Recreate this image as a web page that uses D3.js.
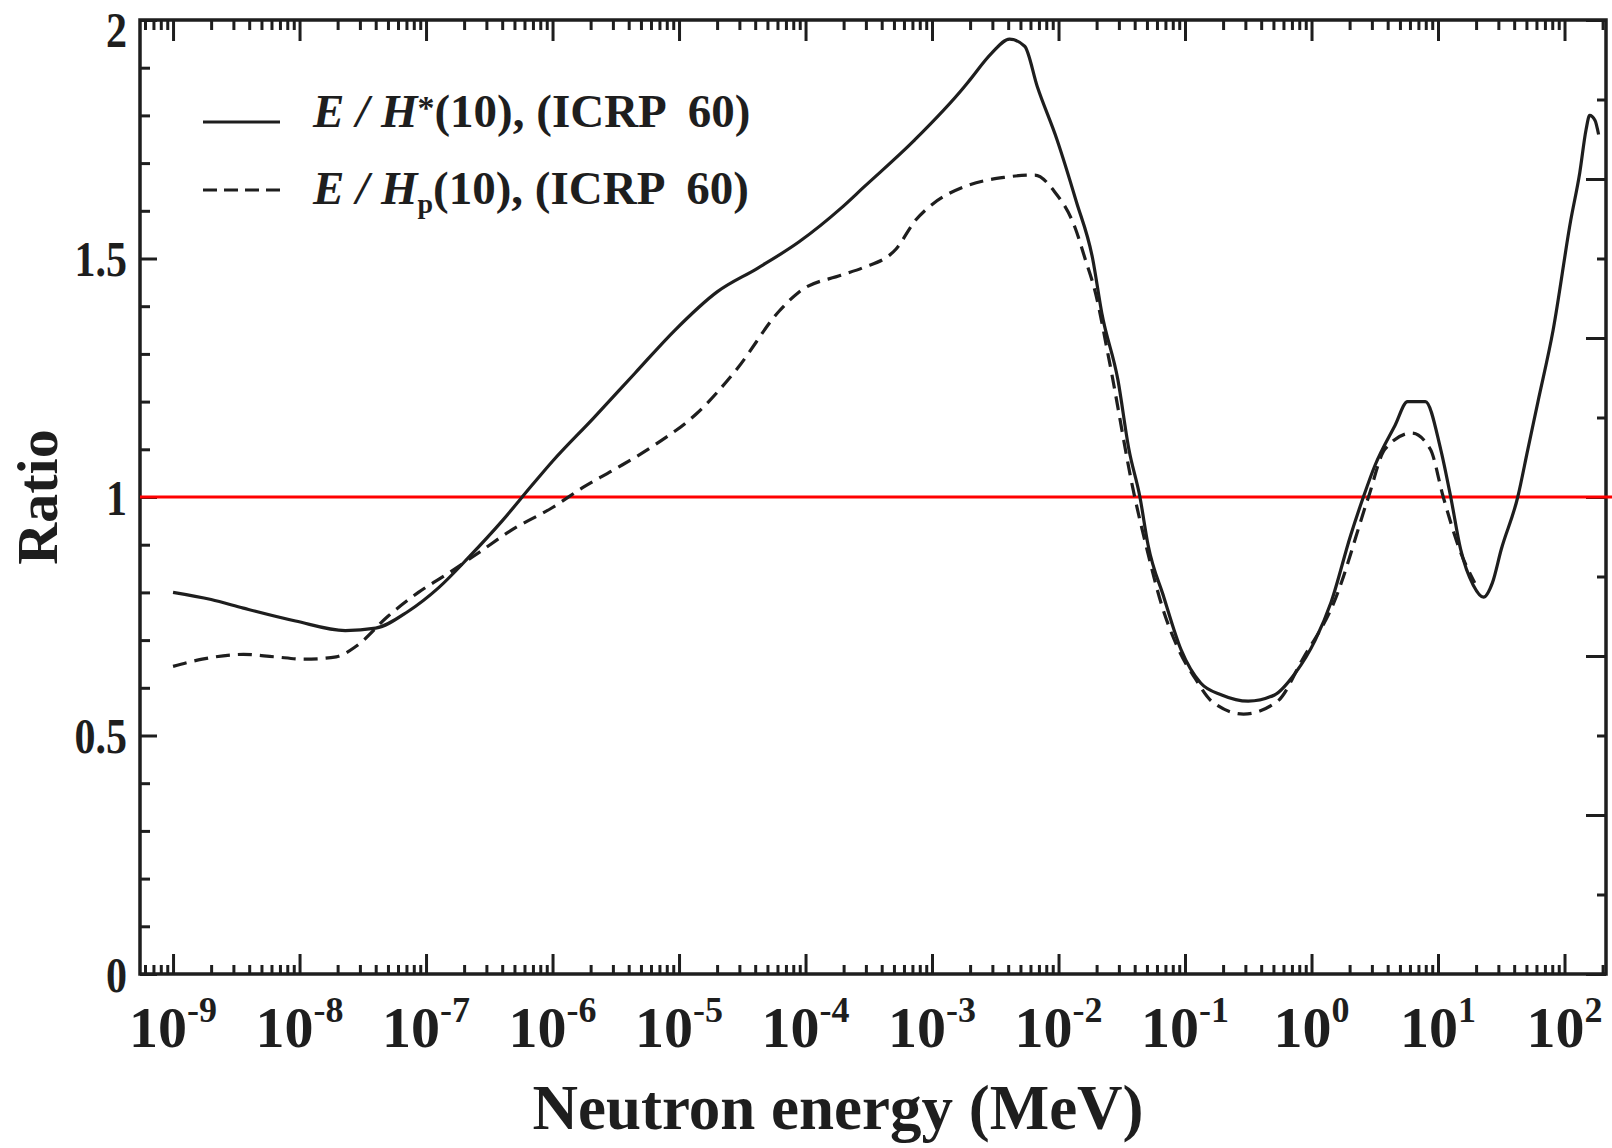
<!DOCTYPE html>
<html lang="en">
<head>
<meta charset="UTF-8">
<title>Ratio E / H*(10) and E / Hp(10) vs neutron energy</title>
<script src="https://d3js.org/d3.v7.min.js"></script>
<style>
  body { margin: 0; background: #fff; }
  svg text { font-family: "Liberation Serif", "Times New Roman", serif; font-weight: bold; fill: #1e1e1e; }
</style>
</head>
<body>
<div id="chart"></div>
<script>
// E / H*(10), ICRP 60 -- energy (MeV) and ratio
const hStarEnergy = [1.0e-9, 2.0e-9, 3.6e-9, 9.3e-9, 2.3e-8, 4.0e-8, 7.2e-8, 1.26e-7, 2.2e-7, 4.0e-7,
  6.9e-7, 1.0e-6, 2.1e-6, 4.5e-6, 9.3e-6, 2.0e-5, 4.2e-5, 8.9e-5, 1.9e-4, 2.9e-4,
  7.2e-4, 1.8e-3, 2.0e-3, 2.95e-3, 4.1e-3, 5.4e-3, 6.8e-3, 9.7e-3, 1.38e-2, 1.86e-2,
  2.2e-2, 2.95e-2, 3.6e-2, 4.4e-2, 5.1e-2, 6.8e-2, 9.3e-2, 0.133, 0.195, 0.316,
  0.51, 0.74, 1.07, 1.43, 2.04, 2.57, 3.16, 4.57, 5.75, 7.94,
  10.5, 12.6, 15.1, 19.0, 22.9, 26.9, 31.6, 42.7, 51.3, 61.7,
  81.3, 112, 132, 148, 158, 174, 186];
const hStarRatio = [0.80, 0.785, 0.767, 0.74, 0.72, 0.725, 0.76, 0.81, 0.875, 0.95,
  1.025, 1.075, 1.165, 1.26, 1.35, 1.43, 1.48, 1.535, 1.605, 1.65,
  1.747, 1.86, 1.875, 1.93, 1.96, 1.945, 1.86, 1.75, 1.62, 1.50,
  1.385, 1.245, 1.10, 1.0, 0.90, 0.79, 0.68, 0.61, 0.585, 0.572,
  0.585, 0.63, 0.70, 0.78, 0.92, 1.0, 1.065, 1.15, 1.20, 1.20,
  1.10, 1.0, 0.89, 0.815, 0.79, 0.82, 0.89, 1.0, 1.10, 1.20,
  1.35, 1.58, 1.68, 1.77, 1.80, 1.79, 1.76];

// E / Hp(10), ICRP 60
const hpEnergy = [1.0e-9, 1.7e-9, 3.6e-9, 6.3e-9, 1.1e-8, 1.95e-8, 2.8e-8, 5.0e-8, 8.7e-8, 1.5e-7,
  2.7e-7, 4.7e-7, 1.0e-6, 1.74e-6, 3.1e-6, 6.5e-6, 1.38e-5, 2.9e-5, 6.2e-5, 8.9e-5,
  1.9e-4, 2.8e-4, 5.2e-4, 7.4e-4, 1.02e-3, 1.78e-3, 3.7e-3, 6.5e-3, 9.3e-3, 1.35e-2,
  1.62e-2, 1.95e-2, 2.5e-2, 4.0e-2, 4.9e-2, 6.6e-2, 8.9e-2, 0.12, 0.162, 0.29,
  0.54, 0.85, 1.51, 2.82, 3.8, 6.2, 8.7, 11.0, 14.8, 19.5];
const hpRatio = [0.645, 0.66, 0.67, 0.665, 0.66, 0.665, 0.687, 0.75, 0.80, 0.84,
  0.886, 0.93, 0.978, 1.02, 1.058, 1.11, 1.175, 1.27, 1.39, 1.43,
  1.465, 1.48, 1.52, 1.58, 1.615, 1.65, 1.67, 1.675, 1.64, 1.565,
  1.50, 1.43, 1.29, 1.0, 0.90, 0.77, 0.68, 0.62, 0.572, 0.545,
  0.572, 0.66, 0.78, 1.0, 1.10, 1.134, 1.10, 1.0, 0.89, 0.82];

const decadeExponents = [-9, -8, -7, -6, -5, -4, -3, -2, -1, 0, 1, 2];
const yTickValues = [0, 0.5, 1, 1.5, 2];
const yTickLabels = ["0", "0.5", "1", "1.5", "2"];
const legendLabels = ["E / H*(10), (ICRP  60)", "E / Hp(10), (ICRP  60)"];

const W = 1612, H = 1148;
const frameLeft = 140, frameRight = 1606, frameTop = 20, frameBottom = 974;
const ink = "#1e1e1e";

const svg = d3.select("#chart").append("svg")
    .attr("width", W)
    .attr("height", H);

const x = d3.scaleLog()
    .domain([5.48e-10, 212.8])
    .range([frameLeft, frameRight]);

const y = d3.scaleLinear()
    .domain([0, 2])
    .range([frameBottom, frameTop]);

// ticks (all pointing inside the frame)
const majorX = decadeExponents.map(e => Math.pow(10, e));
const minorX = [];
d3.range(-10, 3).forEach(e => {
    d3.range(2, 10).forEach(m => {
        const v = m * Math.pow(10, e);
        if (v > x.domain()[0] && v < x.domain()[1]) minorX.push(v);
    });
});

function styleTicks(g) {
    g.select(".domain").remove();
    g.selectAll("text").remove();
    g.selectAll("line").attr("stroke", ink).attr("stroke-width", 3);
}

svg.append("g").attr("transform", `translate(0,${frameBottom})`)
    .call(d3.axisBottom(x).tickValues(minorX).tickSize(-9).tickSizeOuter(0)).call(styleTicks);
svg.append("g").attr("transform", `translate(0,${frameBottom})`)
    .call(d3.axisBottom(x).tickValues(majorX).tickSize(-20).tickSizeOuter(0)).call(styleTicks);
svg.append("g").attr("transform", `translate(0,${frameTop})`)
    .call(d3.axisTop(x).tickValues(minorX).tickSize(-10).tickSizeOuter(0)).call(styleTicks);
svg.append("g").attr("transform", `translate(0,${frameTop})`)
    .call(d3.axisTop(x).tickValues(majorX).tickSize(-21).tickSizeOuter(0)).call(styleTicks);

const yMinor = d3.range(0, 21).map(i => i / 10).filter(v => !yTickValues.includes(v));
svg.append("g").attr("transform", `translate(${frameLeft},0)`)
    .call(d3.axisLeft(y).tickValues(yMinor).tickSize(-10).tickSizeOuter(0)).call(styleTicks);
svg.append("g").attr("transform", `translate(${frameLeft},0)`)
    .call(d3.axisLeft(y).tickValues(yTickValues).tickSize(-17).tickSizeOuter(0)).call(styleTicks);

// right side has its own 12-step tick pattern, no labels
const rightTicks = d3.range(0, 13).map(i => i * 2 / 12);
svg.append("g").attr("transform", `translate(${frameRight},0)`)
    .call(d3.axisRight(y).tickValues(rightTicks.filter((d, i) => i % 2 === 1)).tickSize(-9).tickSizeOuter(0)).call(styleTicks);
svg.append("g").attr("transform", `translate(${frameRight},0)`)
    .call(d3.axisRight(y).tickValues(rightTicks.filter((d, i) => i % 2 === 0)).tickSize(-20).tickSizeOuter(0)).call(styleTicks);

// frame
svg.append("rect")
    .attr("x", frameLeft).attr("y", frameTop)
    .attr("width", frameRight - frameLeft).attr("height", frameBottom - frameTop)
    .attr("fill", "none").attr("stroke", ink).attr("stroke-width", 3.5);

// tick labels
decadeExponents.forEach(e => {
    const t = svg.append("text")
        .attr("x", x(Math.pow(10, e)))
        .attr("y", 1047)
        .attr("text-anchor", "middle")
        .style("font-size", "58px");
    t.append("tspan").text("10");
    t.append("tspan").attr("dy", -25).style("font-size", "36px").text(e);
});

// the scanned labels are tall and narrow
yTickValues.forEach((v, i) => {
    svg.append("text")
        .attr("transform", `translate(127,${Math.max(y(v), 29)}) scale(0.84,1)`)
        .attr("dy", "0.35em")
        .attr("text-anchor", "end")
        .style("font-size", "50px")
        .text(yTickLabels[i]);
});

// axis titles
svg.append("text")
    .attr("x", 838).attr("y", 1129)
    .attr("text-anchor", "middle")
    .style("font-size", "63px")
    .text("Neutron energy (MeV)");

svg.append("text")
    .attr("transform", `translate(57,${y(1)}) rotate(-90)`)
    .attr("text-anchor", "middle")
    .style("font-size", "58px")
    .text("Ratio");

// reference line at ratio 1
svg.append("line")
    .attr("x1", frameLeft).attr("x2", W)
    .attr("y1", y(1)).attr("y2", y(1))
    .attr("stroke", "#ff0000").attr("stroke-width", 3);

// curves
const line = d3.line()
    .x(d => x(d[0]))
    .y(d => y(d[1]))
    .curve(d3.curveMonotoneX);

svg.append("path")
    .datum(d3.zip(hStarEnergy, hStarRatio))
    .attr("d", line)
    .attr("fill", "none").attr("stroke", ink).attr("stroke-width", 3.2);

svg.append("path")
    .datum(d3.zip(hpEnergy, hpRatio))
    .attr("d", line)
    .attr("fill", "none").attr("stroke", ink).attr("stroke-width", 3.2)
    .attr("stroke-dasharray", "14,8");

// legend
svg.append("line").attr("x1", 203).attr("x2", 280).attr("y1", 122).attr("y2", 122)
    .attr("stroke", ink).attr("stroke-width", 3.2);
svg.append("line").attr("x1", 203).attr("x2", 280).attr("y1", 190).attr("y2", 190)
    .attr("stroke", ink).attr("stroke-width", 3.2).attr("stroke-dasharray", "14,7");

const leg1 = svg.append("text").attr("x", 313).attr("y", 127)
    .style("font-size", "47px").style("white-space", "pre");
leg1.append("tspan").style("font-style", "italic").text("E / H");
leg1.append("tspan").attr("dy", -8).style("font-size", "34px").text("*");
leg1.append("tspan").attr("dy", 8).text(legendLabels[0].slice(6));

const leg2 = svg.append("text").attr("x", 313).attr("y", 204)
    .style("font-size", "47px").style("white-space", "pre");
leg2.append("tspan").style("font-style", "italic").text("E / H");
leg2.append("tspan").attr("dy", 9).style("font-size", "28px").text("p");
leg2.append("tspan").attr("dy", -9).text(legendLabels[1].slice(6));
</script>
</body>
</html>
